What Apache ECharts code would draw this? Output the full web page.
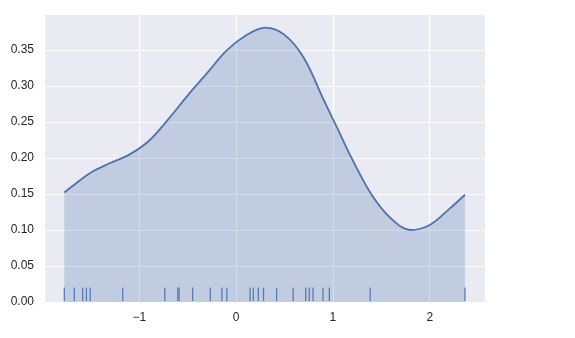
<!DOCTYPE html>
<html>
<head>
<meta charset="utf-8">
<script src="https://cdn.jsdelivr.net/npm/echarts@6/dist/echarts.min.js"></script>
<style>html,body{margin:0;padding:0;background:#fff;}#c{width:575px;height:338px;}</style>
</head>
<body>
<div id="c"></div>
<script>
// KDE curve (x, density)
const kdeX = [-1.775, -1.7, -1.5, -1.3, -1.1, -0.9, -0.7, -0.5, -0.3, -0.1, 0.1, 0.3, 0.5, 0.7, 0.9, 1.05, 1.2, 1.4, 1.6, 1.8, 2.0, 2.2, 2.364];
const kdeY = [0.152, 0.160, 0.180, 0.193, 0.205, 0.224, 0.254, 0.287, 0.318, 0.349, 0.370, 0.381, 0.371, 0.339, 0.282, 0.240, 0.198, 0.149, 0.116, 0.100, 0.107, 0.129, 0.149];
// rug sample positions
const rugX = [-1.775, -1.672, -1.586, -1.547, -1.508, -1.172, -0.737, -0.603, -0.589, -0.449, -0.267, -0.147, -0.096, 0.144, 0.178, 0.229, 0.283, 0.418, 0.589, 0.719, 0.755, 0.794, 0.897, 0.963, 1.385, 2.364];
const rugHeight = 0.02;
const xTicks = [-1, 0, 1, 2];
const yTicks = [0, 0.05, 0.10, 0.15, 0.20, 0.25, 0.30, 0.35];

const curve = kdeX.map((x, i) => [x, kdeY[i]]);
const blue = '#4C72B0';
const chart = echarts.init(document.getElementById('c'), null, {renderer: 'canvas'});
chart.setOption({
  animation: false,
  grid: {left: 44, right: 90, top: 14, bottom: 36, show: true, backgroundColor: '#EAEAF2', borderWidth: 0},
  xAxis: {
    type: 'value', min: -1.985, max: 2.571,
    axisLine: {show: false}, axisTick: {show: false},
    splitLine: {show: true, lineStyle: {color: '#ffffff', width: 1.2}},
    axisLabel: {
      margin: 10, color: '#262626', fontFamily: 'Liberation Sans, Arial, sans-serif', fontSize: 12,
      showMinLabel: false, showMaxLabel: false,
      formatter: v => xTicks.includes(v) ? (v < 0 ? '\u2212' + Math.abs(v) : String(v)) : ''
    }
  },
  yAxis: {
    type: 'value', min: 0, max: 0.4, interval: 0.05,
    axisLine: {show: false}, axisTick: {show: false},
    splitLine: {show: true, lineStyle: {color: '#ffffff', width: 1.2}},
    axisLabel: {
      margin: 10, color: '#262626', fontFamily: 'Liberation Sans, Arial, sans-serif', fontSize: 12,
      formatter: v => yTicks.some(t => Math.abs(t - v) < 1e-9) ? v.toFixed(2) : ''
    }
  },
  series: [
    {
      type: 'line', data: curve, smooth: 0.35, showSymbol: false, symbol: 'none',
      lineStyle: {color: blue, width: 1.8},
      areaStyle: {color: blue, opacity: 0.25, origin: 'start'},
      z: 2
    },
    {
      type: 'custom', z: 3,
      data: rugX.map(x => [x, rugHeight]),
      renderItem: (params, api) => {
        const p0 = api.coord([api.value(0), 0]);
        const p1 = api.coord([api.value(0), api.value(1)]);
        return {type: 'line', shape: {x1: p0[0], y1: p0[1] - 1, x2: p0[0], y2: p1[1]},
          style: {stroke: blue, lineWidth: 1.3, opacity: 0.9}};
      }
    }
  ]
});
</script>
</body>
</html>
